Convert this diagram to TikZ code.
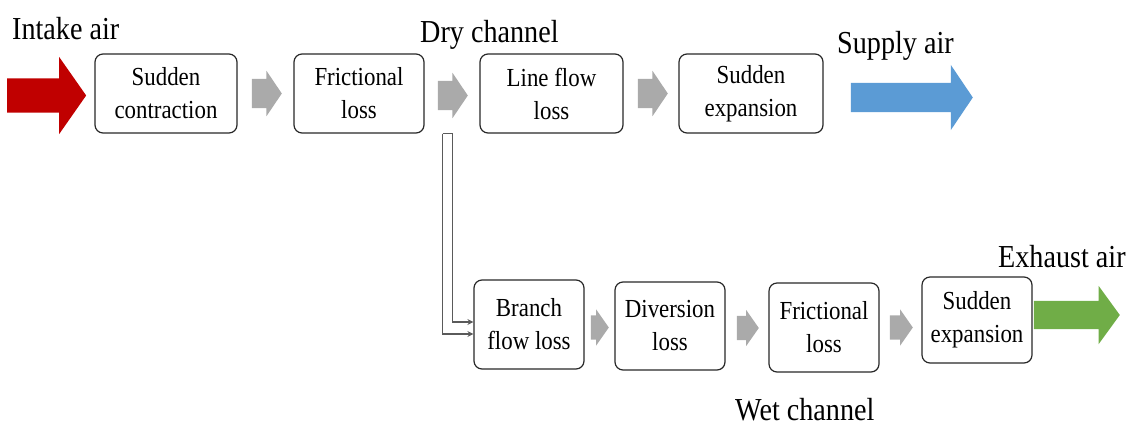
\documentclass[tikz,border=0pt]{standalone}
\usepackage{fontspec}
\setmainfont[FakeStretch=0.88]{Liberation Serif}
\usetikzlibrary{shapes.arrows}
\usetikzlibrary{calc}
\usetikzlibrary{arrows.meta}

\begin{document}
\begin{tikzpicture}[x=1pt, y=-1pt,
    loss/.style={draw=boxline, line width=1.2pt, rounded corners=8pt, align=center,
        inner sep=0pt, font=\fontsize{26}{33}\selectfont},
    airlabel/.style={anchor=base west, inner sep=0pt, font=\fontsize{32}{36}\selectfont},
    blockarrow/.style={single arrow, draw=none, inner xsep=0pt, anchor=tail},
    greyup/.style={blockarrow, fill=arrowgrey, minimum height=30pt, inner ysep=14.5pt,
        single arrow head extend=8pt, single arrow tip angle=112},
    greydown/.style={blockarrow, fill=arrowgrey, inner ysep=12pt,
        single arrow head extend=6pt, single arrow tip angle=110},
    branch/.style={draw=branchgrey, line width=1.3pt, -{Stealth[length=6pt, width=6pt]}}]
    % 定义颜色
    \definecolor{intakered}{RGB}{192, 0, 0}
    \definecolor{supplyblue}{RGB}{91, 155, 213}
    \definecolor{exhaustgreen}{RGB}{112, 173, 71}
    \definecolor{arrowgrey}{RGB}{170, 170, 170}
    \definecolor{boxline}{RGB}{40, 40, 40}
    \definecolor{branchgrey}{RGB}{90, 90, 90}

    \useasboundingbox (0, 0) rectangle (1132, 429);

    % 干通道 (Dry channel)
    \node[loss, minimum width=142pt, minimum height=79pt] (sc) at (166, 93.5) {Sudden\\contraction};
    \node[loss, minimum width=130pt, minimum height=79pt] (fl1) at (359, 93.5) {Frictional\\loss};
    \node[loss, minimum width=143pt, minimum height=79pt] (lf) at (551.5, 93.5) {Line flow\\loss};
    \node[loss, minimum width=144pt, minimum height=79pt] (se1) at (751, 93.5) {Sudden\\expansion};

    \node[greyup] (g1) at ($(sc.east)+(14, 0)$) {};
    \node[greyup] (g2) at ($(fl1.east)+(13, 2)$) {};
    \node[greyup] (g3) at ($(lf.east)+(14, 0)$) {};

    % 湿通道 (Wet channel)
    \node[loss, minimum width=110pt, minimum height=89pt] (bf) at (529, 324.5) {Branch\\flow loss};
    \node[loss, minimum width=110pt, minimum height=88pt] (dl) at (670, 326) {Diversion\\loss};
    \node[loss, minimum width=110pt, minimum height=89pt] (fl2) at (824, 327.5) {Frictional\\loss};
    \node[loss, minimum width=110pt, minimum height=86pt] (se2) at (977, 320) {Sudden\\expansion};

    \node[greydown, minimum height=18pt] (g4) at ($(bf.east)+(6, 3)$) {};
    \node[greydown, minimum height=22pt] (g5) at ($(dl.east)+(11, 2)$) {};
    \node[greydown, minimum height=23pt] (g6) at ($(fl2.east)+(10, 0)$) {};

    % 进出口气流
    \node[blockarrow, fill=intakered, minimum height=79pt, inner ysep=17pt,
        single arrow head extend=21.5pt, single arrow tip angle=110, anchor=tip] (intakearrow) at ($(sc.west)+(-8, 2)$) {};
    \node[blockarrow, fill=supplyblue, minimum height=122pt, inner ysep=14.5pt,
        single arrow head extend=18pt, single arrow tip angle=112] (supplyarrow) at ($(se1.east)+(27, 4)$) {};
    \node[blockarrow, fill=exhaustgreen, minimum height=86pt, inner ysep=14pt,
        single arrow head extend=15pt, single arrow tip angle=108] (exhaustarrow) at ($(se2.east)+(1, -5)$) {};

    % 分流
    \coordinate (bo) at ($(fl1.south east)+(18, 0)$);
    \coordinate (bi) at ($(fl1.south east)+(28, 0)$);
    \draw[draw=branchgrey, line width=1.3pt] (bo) -- (bi);
    \draw[branch] (bi) |- ($(bf.west)+(0, -2.5)$);
    \draw[branch] (bo) |- ($(bf.west)+(0, 9.5)$);

    % 标注
    \node[airlabel] (intake) at (12, 39) {Intake air};
    \node[airlabel] (dry) at (420, 42) {Dry channel};
    \node[airlabel] (supply) at (837, 53) {Supply air};
    \node[airlabel] (exhaust) at (998, 267) {Exhaust air};
    \node[airlabel] (wet) at (735, 420) {Wet channel};
\end{tikzpicture}
\end{document}
